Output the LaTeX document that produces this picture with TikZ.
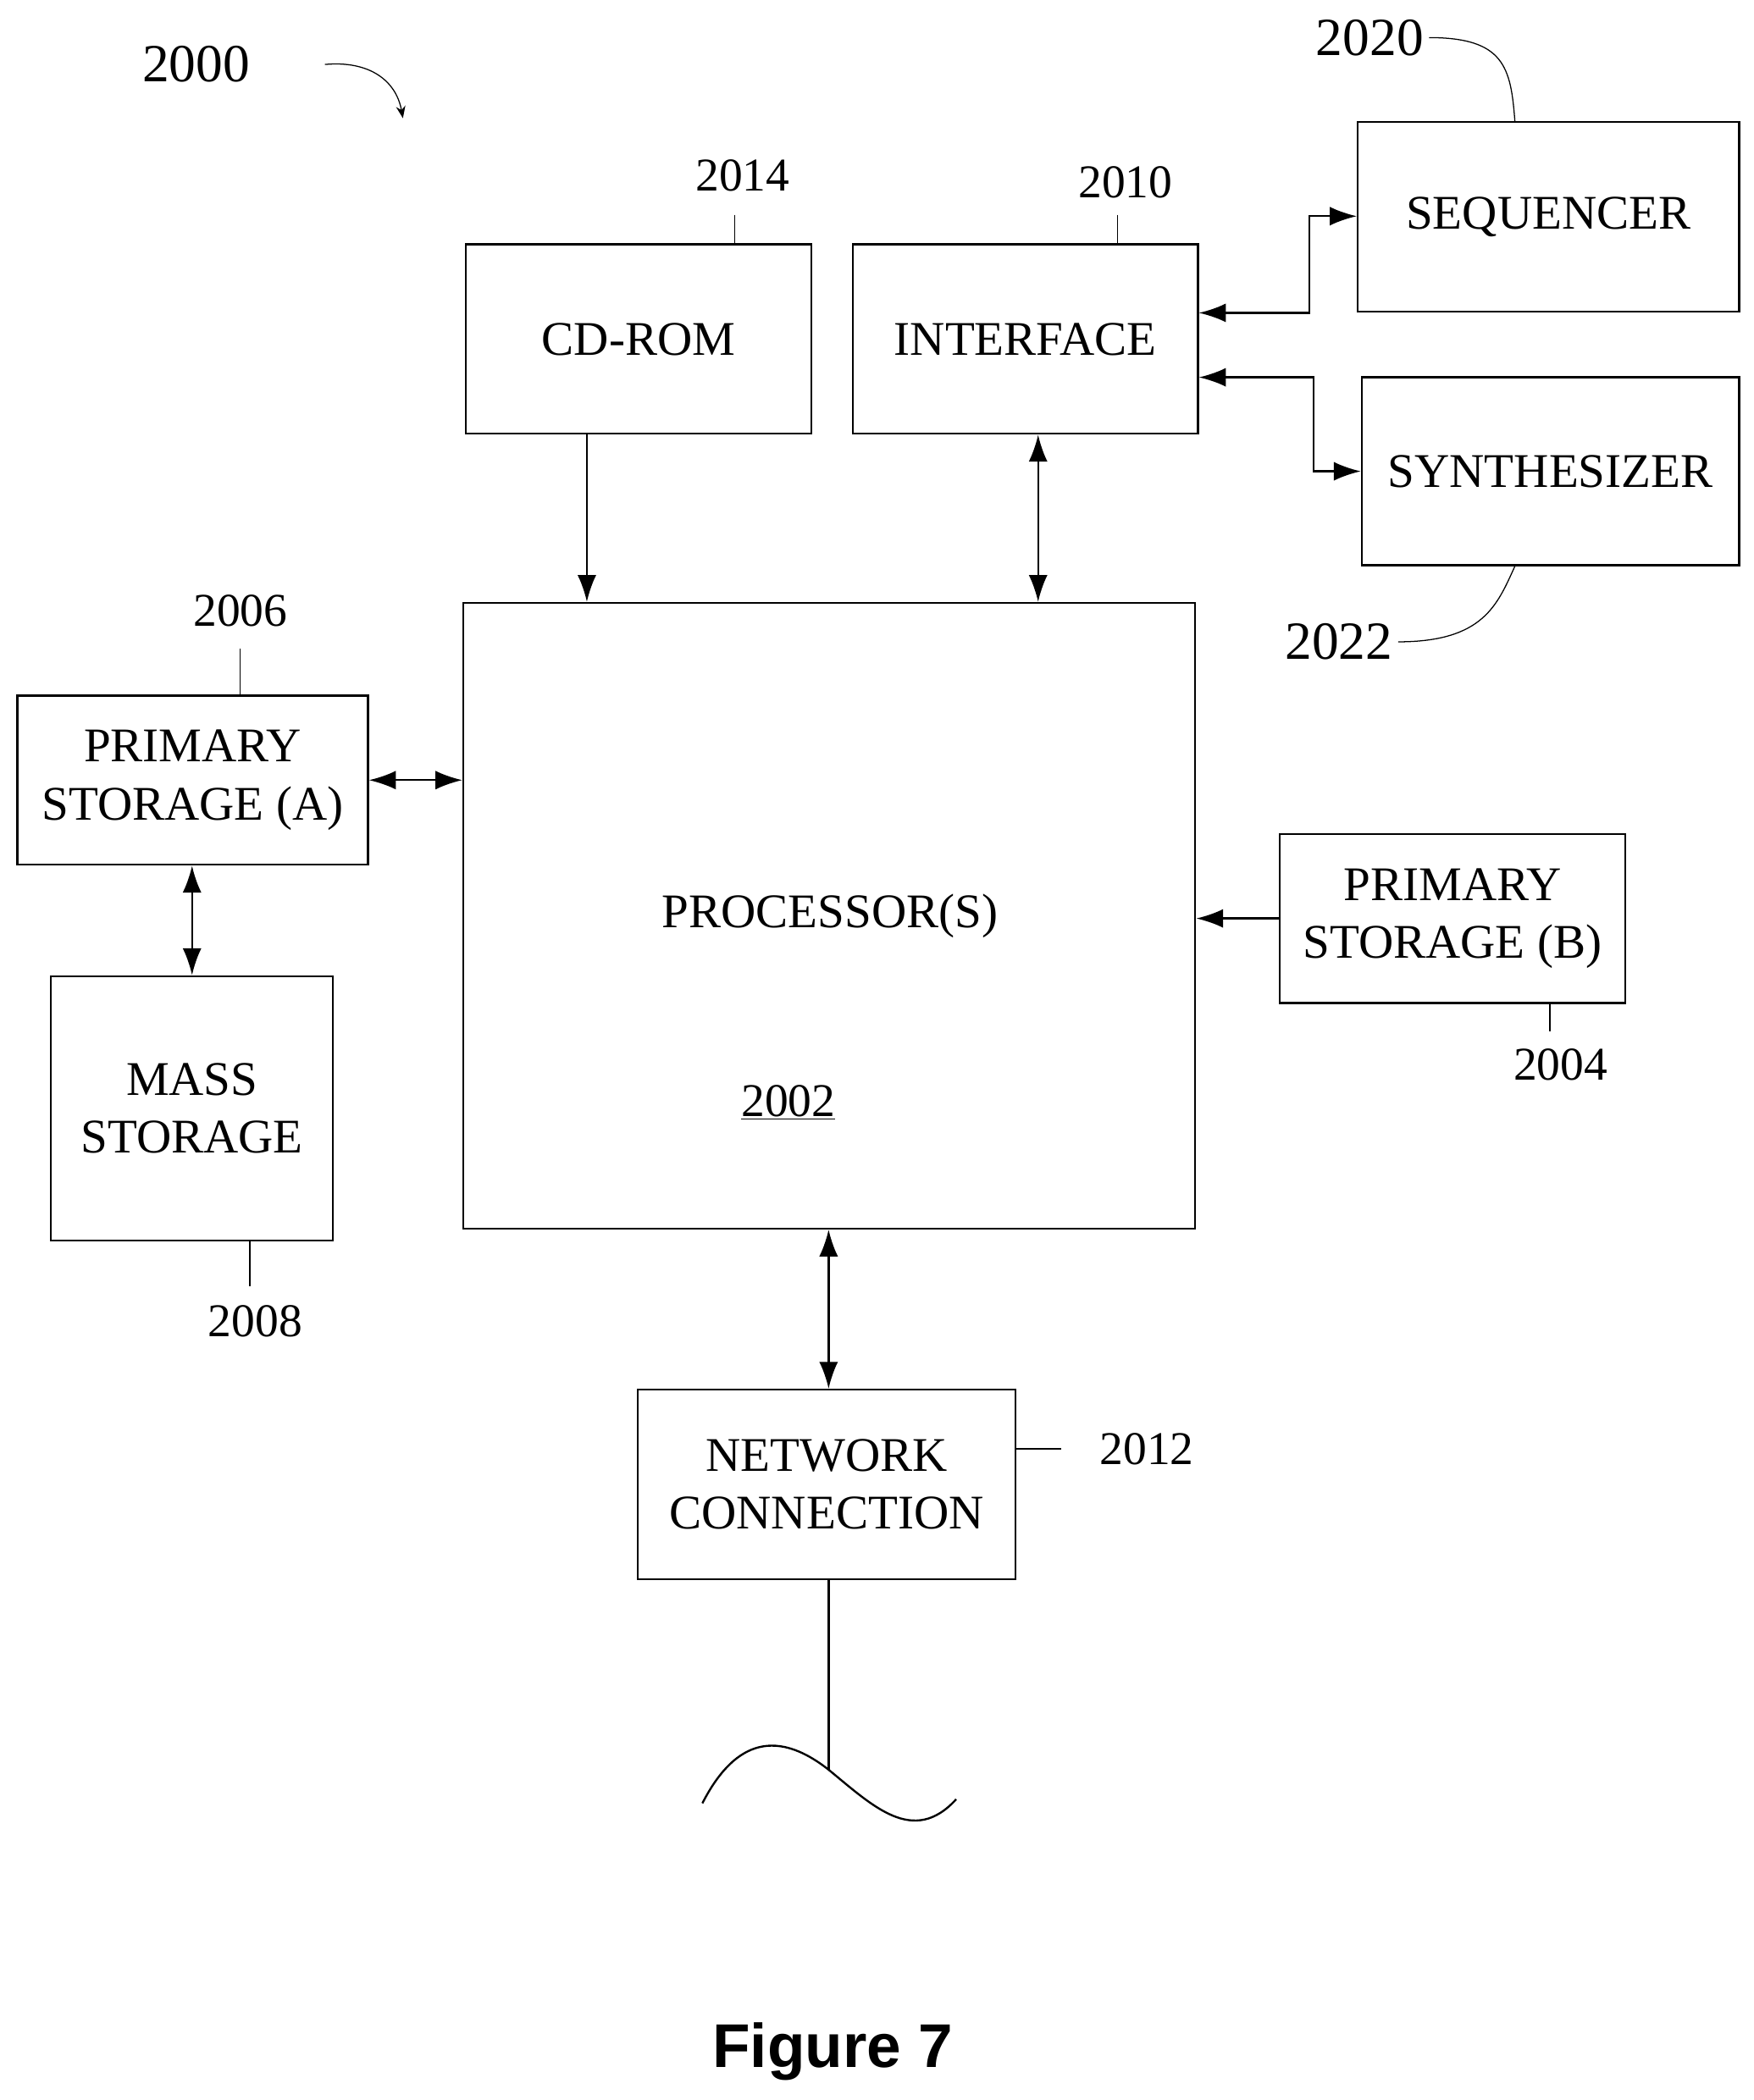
\documentclass[tikz,border=0pt]{standalone}
\usepackage{fontspec}
\setmainfont{Liberation Serif}
\usetikzlibrary{arrows.meta}
\tikzset{every picture/.style={line width=1.5pt},
  blk/.style={draw, line width=1.5pt, align=center, inner sep=0pt, font=\fontsize{36}{43}\selectfont},
  lbl/.style={font=\fontsize{35}{42}\selectfont},
  arr/.style={-{Latex[length=20pt,width=14pt]}},
  darr/.style={{Latex[length=20pt,width=14pt]}-{Latex[length=20pt,width=14pt]}}}

\begin{document}
\begin{tikzpicture}[x=1pt,y=1pt,yscale=-1,xscale=1]
\useasboundingbox (0,0) rectangle (1306,1564);

%Shape: Boxes
\node [blk, minimum width=257pt, minimum height=141pt] (cdrom) at (475.5,252.5) {CD-ROM};
\node [blk, minimum width=257pt, minimum height=141pt] (iface) at (763.5,252.5) {INTERFACE};
\node [blk, minimum width=284pt, minimum height=141pt] (seq) at (1153,161.5) {SEQUENCER};
\node [blk, minimum width=281pt, minimum height=140pt] (synth) at (1154.5,351) {SYNTHESIZER};
\node [draw, line width=1.5pt, minimum width=545pt, minimum height=466pt] (proc) at (617.5,682) {};
\node [blk, minimum width=261pt, minimum height=126pt] (psa) at (143.5,581) {PRIMARY\\STORAGE (A)};
\node [blk, minimum width=210pt, minimum height=197pt] (mass) at (143,825.5) {MASS\\STORAGE};
\node [blk, minimum width=257pt, minimum height=126pt] (psb) at (1081.5,684) {PRIMARY\\STORAGE (B)};
\node [blk, minimum width=281pt, minimum height=141pt] (net) at (615.5,1105.5) {NETWORK\\CONNECTION};

% Text Node
\node [blk, draw=none] (tproc) at (618,682) {PROCESSOR(S)};
\node [lbl] (tnum) at (587,821) {\underline{2002}};
\node [font=\fontsize{40}{48}\selectfont] (l2000) at (146,48) {2000};
\node [lbl] (l2014) at (553,131) {2014};
\node [lbl] (l2010) at (838,136) {2010};
\node [font=\fontsize{40}{48}\selectfont] (l2020) at (1020,28) {2020};
\node [font=\fontsize{40}{48}\selectfont] (l2022) at (997,478) {2022};
\node [lbl] (l2006) at (179,455) {2006};
\node [lbl] (l2008) at (190,984) {2008};
\node [lbl] (l2004) at (1162,793) {2004};
\node [lbl] (l2012) at (854,1079) {2012};
\node [font={\fontspec{Liberation Sans}\bfseries\fontsize{46}{52}\selectfont}] (fig) at (620,1528) {Figure 7};

%Leader lines
\draw [line width=0.8pt, -{Stealth[length=9pt,width=7pt]}] (242,48) .. controls (275,45) and (295,60) .. (300,88);
\draw [line width=0.8pt] (547,160) -- (cdrom.north -| 547,0);
\draw [line width=0.8pt] (832,160) -- (iface.north -| 832,0);
\draw [line width=0.8pt] (l2020.east) .. controls (1120,28) and (1125,50) .. (seq.north -| 1128,0);
\draw [line width=0.8pt] (l2022.east) .. controls (1105,478) and (1115,450) .. (synth.south -| 1128,0);
\draw [line width=0.8pt] (179,483) -- (psa.north -| 179,0);
\draw [line width=0.8pt] (mass.south -| 186,0) -- (186,958);
\draw [line width=0.8pt] (psb.south -| 1154,0) -- (1154,768);
\draw [line width=0.8pt] (net.east |- 0,1079) -- (790,1079);

%Connectors
\draw [arr] (cdrom.south -| 437,0) -- (proc.north -| 437,0);
\draw [darr] (iface.south -| 773,0) -- (proc.north -| 773,0);
\draw [darr] (iface.east |- 0,233) -- (975,233) -- (975,161) -- (seq.west |- 0,161);
\draw [darr] (iface.east |- 0,281) -- (978,281) -- (978,351) -- (synth.west |- 0,351);
\draw [darr] (psa.east |- 0,581) -- (proc.west |- 0,581);
\draw [darr] (psa.south -| 143,0) -- (mass.north -| 143,0);
\draw [arr] (psb.west |- 0,684) -- (proc.east |- 0,684);
\draw [darr] (proc.south -| 617,0) -- (net.north -| 617,0);

%Network line
\coordinate (wave) at (617,1318);
\draw (net.south -| 617,0) -- (wave);
\draw (523,1343) .. controls (545,1300) and (575,1285) .. (617,1318) .. controls (650,1345) and (680,1375) .. (712,1340);

\end{tikzpicture}
\end{document}
